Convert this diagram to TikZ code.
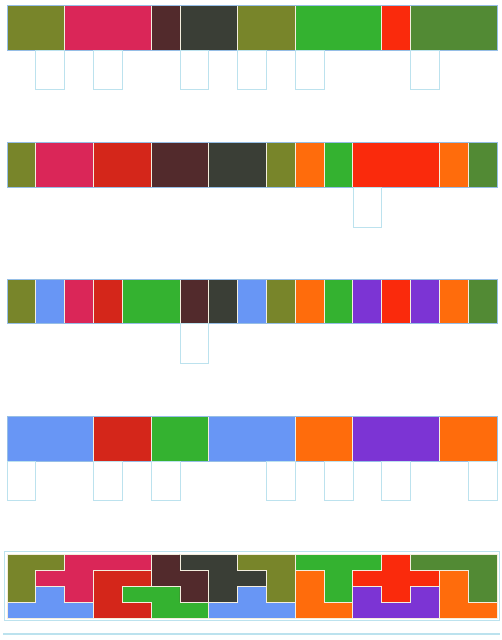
\documentclass[tikz,border=0pt]{standalone}
\definecolor{olv}{RGB}{120,133,42}
\definecolor{pnk}{RGB}{218,38,88}
\definecolor{brn}{RGB}{82,42,44}
\definecolor{drk}{RGB}{58,62,54}
\definecolor{grn}{RGB}{52,178,48}
\definecolor{bred}{RGB}{250,42,12}
\definecolor{cred}{RGB}{212,38,26}
\definecolor{dgr}{RGB}{82,138,52}
\definecolor{org}{RGB}{255,108,12}
\definecolor{blu}{RGB}{104,150,245}
\definecolor{pur}{RGB}{124,52,212}
\definecolor{cyn}{RGB}{188,226,238}
\definecolor{sepc}{RGB}{244,238,222}
\definecolor{edgec}{RGB}{150,190,230}
\tikzset{
  sepline/.style={draw=sepc, line width=0.8pt},
  edgeline/.style={draw=edgec, line width=0.6pt},
  gapbox/.style={draw=cyn, line width=0.7pt},
  piece/.style={draw=sepc, line width=0.8pt, line join=miter},
}
\newcommand\stripA[3]{%
  \foreach \pa/\pb/\pc in {#3} { \fill[\pc] (\pa,#1) rectangle (\pb,#2); }
  \foreach \pa/\pb/\pc in {#3} { \draw[sepline] (\pa,#1) rectangle (\pb,#2); }
  \draw[edgeline] (0,#1) rectangle (17,#2);
}
\begin{document}
\begin{tikzpicture}[x=1pt,y=-1pt]
\useasboundingbox (0,0) rectangle (501,640);
\fill[white] (0,0) rectangle (501,640);
\begin{scope}[x=28.8235pt, shift={(7pt,0pt)}]
  % strip 1
  \stripA{5}{50}{0/2/olv,2/5/pnk,5/6/brn,6/8/drk,8/10/olv,10/13/grn,13/14/bred,14/17/dgr}
  \foreach \k in {1,3,6,8,10,14} \draw[gapbox] (\k,50) rectangle (\k+1,89);
  % strip 2
  \stripA{142}{187}{0/1/olv,1/3/pnk,3/5/cred,5/7/brn,7/9/drk,9/10/olv,10/11/org,11/12/grn,12/15/bred,15/16/org,16/17/dgr}
  \foreach \k in {12} \draw[gapbox] (\k,187) rectangle (\k+1,227);
  % strip 3
  \stripA{279}{323}{0/1/olv,1/2/blu,2/3/pnk,3/4/cred,4/6/grn,6/7/brn,7/8/drk,8/9/blu,9/10/olv,10/11/org,11/12/grn,12/13/pur,13/14/bred,14/15/pur,15/16/org,16/17/dgr}
  \foreach \k in {6} \draw[gapbox] (\k,323) rectangle (\k+1,363);
  % strip 4
  \stripA{416}{461}{0/3/blu,3/5/cred,5/7/grn,7/10/blu,10/12/org,12/15/pur,15/17/org}
  \foreach \k in {0,3,5,9,11,13,16} \draw[gapbox] (\k,461) rectangle (\k+1,500);
\end{scope}
% composite
\draw[cyn, line width=0.8pt] (4.5,551.5) rectangle (499.5,620.5);
\begin{scope}[x=28.8235pt, y=-16pt, shift={(7pt,-554pt)}]
  \filldraw[piece, fill=olv] (0,0)--(2,0)--(2,1)--(1,1)--(1,3)--(0,3)--cycle;
  \filldraw[piece, fill=pnk] (2,0)--(5,0)--(5,1)--(3,1)--(3,3)--(2,3)--(2,2)--(1,2)--(1,1)--(2,1)--cycle;
  \filldraw[piece, fill=cred] (3,1)--(5,1)--(5,2)--(4,2)--(4,3)--(5,3)--(5,4)--(3,4)--cycle;
  \filldraw[piece, fill=blu] (1,2)--(2,2)--(2,3)--(3,3)--(3,4)--(0,4)--(0,3)--(1,3)--cycle;
  \filldraw[piece, fill=grn] (4,2)--(6,2)--(6,3)--(7,3)--(7,4)--(5,4)--(5,3)--(4,3)--cycle;
  \filldraw[piece, fill=brn] (5,0)--(6,0)--(6,1)--(7,1)--(7,3)--(6,3)--(6,2)--(5,2)--cycle;
  \filldraw[piece, fill=drk] (6,0)--(8,0)--(8,1)--(9,1)--(9,2)--(8,2)--(8,3)--(7,3)--(7,1)--(6,1)--cycle;
  \filldraw[piece, fill=blu] (8,2)--(9,2)--(9,3)--(10,3)--(10,4)--(7,4)--(7,3)--(8,3)--cycle;
  \filldraw[piece, fill=olv] (8,0)--(10,0)--(10,3)--(9,3)--(9,1)--(8,1)--cycle;
  \filldraw[piece, fill=grn] (10,0)--(13,0)--(13,1)--(12,1)--(12,3)--(11,3)--(11,1)--(10,1)--cycle;
  \filldraw[piece, fill=org] (10,1)--(11,1)--(11,3)--(12,3)--(12,4)--(10,4)--cycle;
  \filldraw[piece, fill=bred] (13,0)--(14,0)--(14,1)--(15,1)--(15,2)--(14,2)--(14,3)--(13,3)--(13,2)--(12,2)--(12,1)--(13,1)--cycle;
  \filldraw[piece, fill=pur] (12,2)--(13,2)--(13,3)--(14,3)--(14,2)--(15,2)--(15,4)--(12,4)--cycle;
  \filldraw[piece, fill=dgr] (14,0)--(17,0)--(17,3)--(16,3)--(16,1)--(14,1)--cycle;
  \filldraw[piece, fill=org] (15,1)--(16,1)--(16,3)--(17,3)--(17,4)--(15,4)--cycle;
\end{scope}
\draw[cyn, line width=1.8pt] (3,634) -- (500,634);
\end{tikzpicture}
\end{document}
